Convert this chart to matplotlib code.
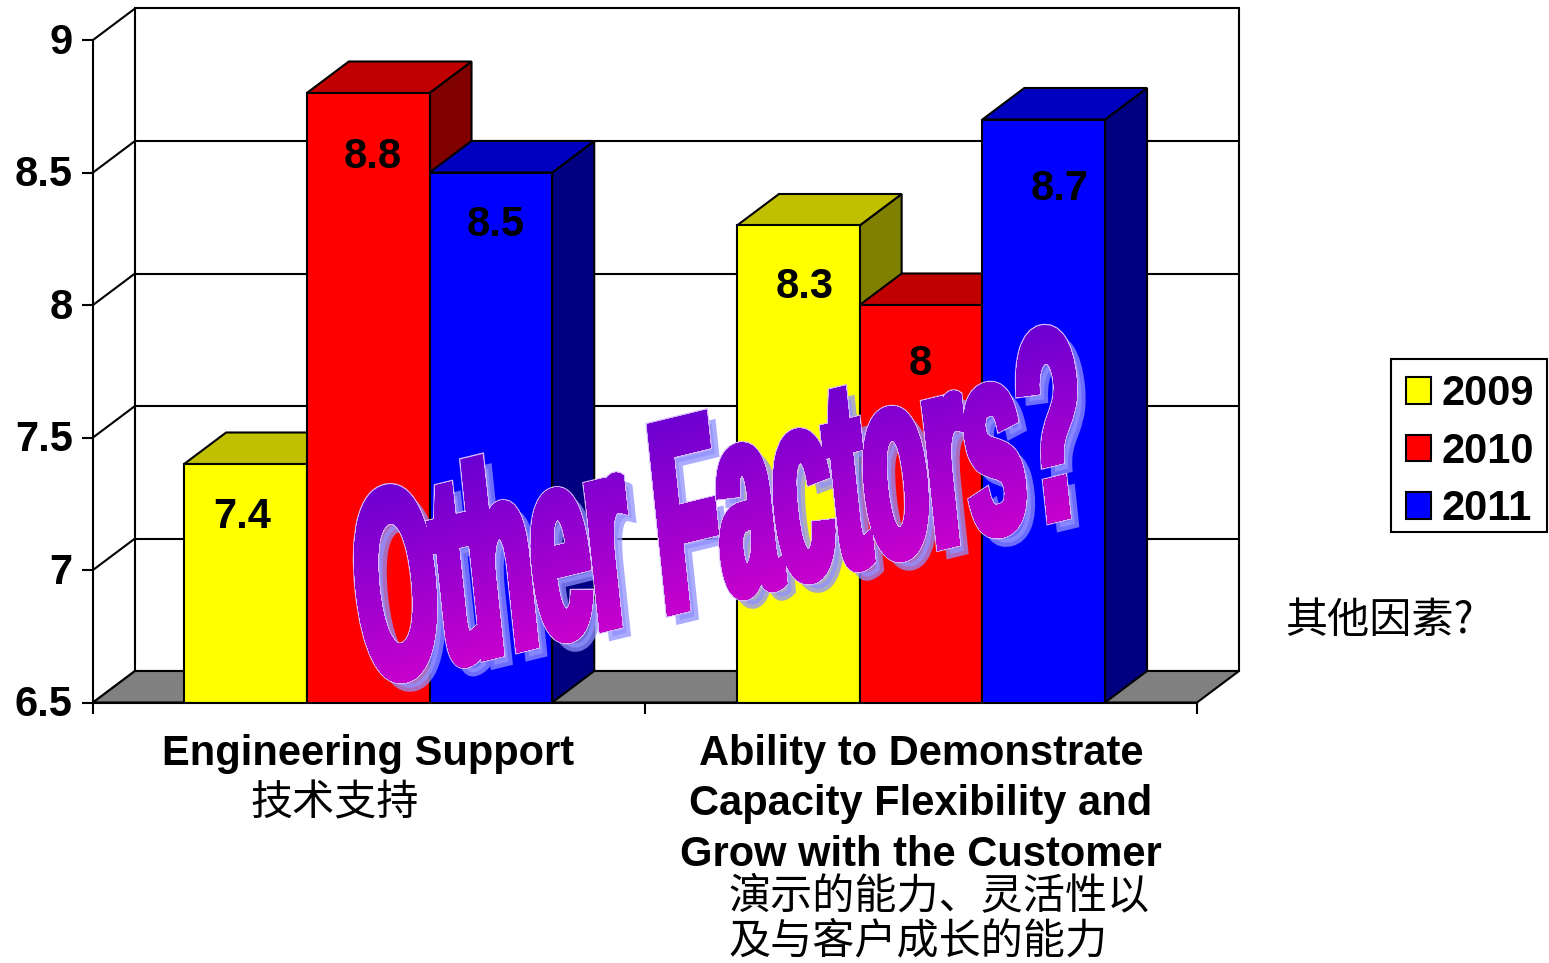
import matplotlib
matplotlib.use('Agg')
import matplotlib.pyplot as plt
from matplotlib.patches import Polygon, Rectangle
from matplotlib.patheffects import AbstractPathEffect
from matplotlib.path import Path
from matplotlib.transforms import Affine2D, TransformedPath
import numpy as np

categories = ['Engineering Support', 'Ability to Demonstrate\nCapacity Flexibility and\nGrow with the Customer']
years = ['2009', '2010', '2011']
values_2009 = [7.4, 8.3]
values_2010 = [8.8, 8.0]
values_2011 = [8.5, 8.7]
value_labels = [['7.4', '8.3'], ['8.8', '8'], ['8.5', '8.7']]
y_ticks = [6.5, 7, 7.5, 8, 8.5, 9]
y_tick_labels = ['6.5', '7', '7.5', '8', '8.5', '9']

front_colors = ['#ffff00', '#ff0000', '#0000ff']
top_colors = ['#c0c000', '#c00000', '#0000c0']
side_colors = ['#808000', '#800000', '#000080']
# label offsets from the bar top, pixels
label_off = [[(-3, -53), (6, -61)], [(5, -64), (-1, -59)], [(5, -52), (16, -69)]]

W, H = 1549, 963
plt.rcParams['font.family'] = ['Liberation Sans', 'DejaVu Sans']
plt.rcParams['font.weight'] = 'bold'
CJK = ['Noto Sans CJK SC', 'DejaVu Sans']

fig = plt.figure(figsize=(W / 100, H / 100), dpi=100)
left, right, top, bottom = 93, 1197, 40, 702.5
ax = fig.add_axes([left / W, 1 - bottom / H, (right - left) / W, (bottom - top) / H])
ax.set_xlim(0, 2)
ax.set_ylim(6.5, 9)

# 3d depth in data units
DX = 42 / ((right - left) / 2)
DY = 31.5 / ((bottom - top) / 2.5)
bw = 122.7 / ((right - left) / 2)

ax.add_patch(Rectangle((DX, 6.5 + DY), 2, 2.5, fc='white', ec='black', lw=1.5, zorder=1, clip_on=False))
ax.add_patch(Polygon([(0, 6.5), (2, 6.5), (2 + DX, 6.5 + DY), (DX, 6.5 + DY)], fc='#808080', ec='black', lw=1.5,
                     zorder=1.5, clip_on=False))
for t in y_ticks:
    ax.plot([0, DX], [t, t + DY], color='black', lw=1.5, zorder=1.2, clip_on=False)
    if 6.5 < t < 9:
        ax.plot([DX, 2 + DX], [t + DY, t + DY], color='black', lw=1.5, zorder=1.2, clip_on=False)

x = np.array([0.4985, 1.5])
series = [values_2009, values_2010, values_2011]
for j, vals in enumerate(series):
    xs = x + (j - 1) * bw
    z = 2 + j
    ax.bar(xs, np.array(vals) - 6.5, bw, bottom=6.5, color=front_colors[j], edgecolor='black', lw=1.5,
           label=years[j], zorder=z + 0.5)
    for xc, v in zip(xs, vals):
        x0, x1 = xc - bw / 2, xc + bw / 2
        ax.add_patch(Polygon([(x1, 6.5), (x1 + DX, 6.5 + DY), (x1 + DX, v + DY), (x1, v)], fc=side_colors[j],
                             ec='black', lw=1.5, zorder=z, clip_on=False))
        ax.add_patch(Polygon([(x0, v), (x1, v), (x1 + DX, v + DY), (x0 + DX, v + DY)], fc=top_colors[j],
                             ec='black', lw=1.5, zorder=z, clip_on=False))
    for i, v in enumerate(vals):
        ax.annotate(value_labels[j][i], (xs[i], v), xytext=label_off[j][i], textcoords='offset pixels',
                    ha='center', va='center', fontsize=30, fontweight='bold', color='black', zorder=6,
                    annotation_clip=False)

for s in ['top', 'right']:
    ax.spines[s].set_visible(False)
ax.spines['left'].set_linewidth(1.5)
ax.spines['bottom'].set_linewidth(1.5)
ax.spines['left'].set_zorder(1.3)
ax.set_facecolor('none')
ax.set_yticks(y_ticks)
ax.set_yticklabels(y_tick_labels, fontsize=30, fontweight='bold')
ax.tick_params(axis='y', length=8, width=1.5, pad=6.5)
for lab in ax.get_yticklabels():
    lab.set_transform(lab.get_transform() + Affine2D().translate(0, 2))
ax.set_xticks([0, 1, 2])
ax.set_xticklabels([])
ax.tick_params(axis='x', which='major', length=8, width=1.5)
ax.set_xticks(x, minor=True)
ax.set_xticklabels(categories, minor=True, fontsize=30, fontweight='bold', linespacing=1.345)
ax.tick_params(axis='x', which='minor', length=0, pad=22.5)

# frame is a separate patch so the padding can differ per side
fig.add_artist(Rectangle((1391 / W, 1 - 532 / H), 156 / W, 173 / H, transform=fig.transFigure, fc='white',
                         ec='black', lw=1.5, zorder=0.5))
leg = fig.legend(loc='center', bbox_to_anchor=(1470 / W, 1 - 451.5 / H), fontsize=30, frameon=False,
                 handlelength=0.6, handleheight=0.6, handletextpad=0.25, labelspacing=0.42, borderpad=0,
                 borderaxespad=0)
leg.set_zorder(2)


def ptext(px, py, s, **kw):
    fig.text(px / W, 1 - py / H, s, family=CJK, fontweight='normal', fontsize=30.3, va='center', **kw)


ptext(250, 803, '技术支持')
ptext(728, 896, '演示的能力、灵活性以')
ptext(728, 941, '及与客户成长的能力')
ptext(1285, 621, '其他因素?')


class WordArt(AbstractPathEffect):
    # stretches the glyphs and paints shadow, gradient and outline
    def __init__(self, sx, sy, slope, lean, fat):
        super().__init__()
        self.m = Affine2D(np.array([[sx, -lean * sy, 0], [slope * sx, sy, 0], [0, 0, 1]]))
        self.fat = fat

    def draw_path(self, renderer, gc, tpath, affine, rgbFace=None):
        ox, oy = affine.transform((0, 0))
        place = self.m + Affine2D().translate(ox, oy)
        full = affine + Affine2D().translate(-ox, -oy) + place

        g = renderer.new_gc()
        g.copy_properties(gc)
        g.set_joinstyle('miter')
        g.set_linewidth(self.fat)
        g.set_alpha(0.75)
        g.set_foreground((0.57, 0.57, 1.0))
        renderer.draw_path(g, tpath, full + Affine2D().translate(9, -9), (0.57, 0.57, 1.0, 0.75))
        g.restore()

        g = renderer.new_gc()
        g.copy_properties(gc)
        g.set_joinstyle('miter')
        g.set_linewidth(self.fat + 2.2)
        g.set_foreground('#d8b8ff')
        renderer.draw_path(g, tpath, full, (0.85, 0.72, 1.0))
        g.restore()

        # gradient in text coordinates, top purple to bottom magenta
        y_top, y_bot = 64, -6
        c0, c1 = np.array([0.40, 0, 0.82]), np.array([0.80, 0, 0.80])
        n = 40
        unit = Path([(0, 0), (1, 0), (1, 1), (0, 1), (0, 0)])
        for i in range(n):
            yy = y_top + (y_bot - y_top) * i / n
            col = tuple(c0 + (c1 - c0) * i / (n - 1))
            g2 = renderer.new_gc()
            g2.copy_properties(gc)
            g2.set_joinstyle('miter')
            g2.set_linewidth(self.fat)
            g2.set_foreground(col)
            if i > 0:
                # only the transform changes between bands, agg caches the clip by path
                box = Affine2D().scale(2100, yy + 100).translate(-100, -100) + place
                g2.set_clip_path(TransformedPath(unit, box))
            renderer.draw_path(g2, tpath, full, col)
            g2.restore()


wa = fig.text(366 / W, 1 - 685 / H, 'Other Factors?', fontsize=60, fontweight='bold', ha='left', va='baseline',
              zorder=10, family=['Liberation Sans', 'DejaVu Sans'])
wa.set_path_effects([WordArt(1.215, 3.2, 0.243, 0.106, 6.0)])

fig.savefig('out.png', dpi=100)
